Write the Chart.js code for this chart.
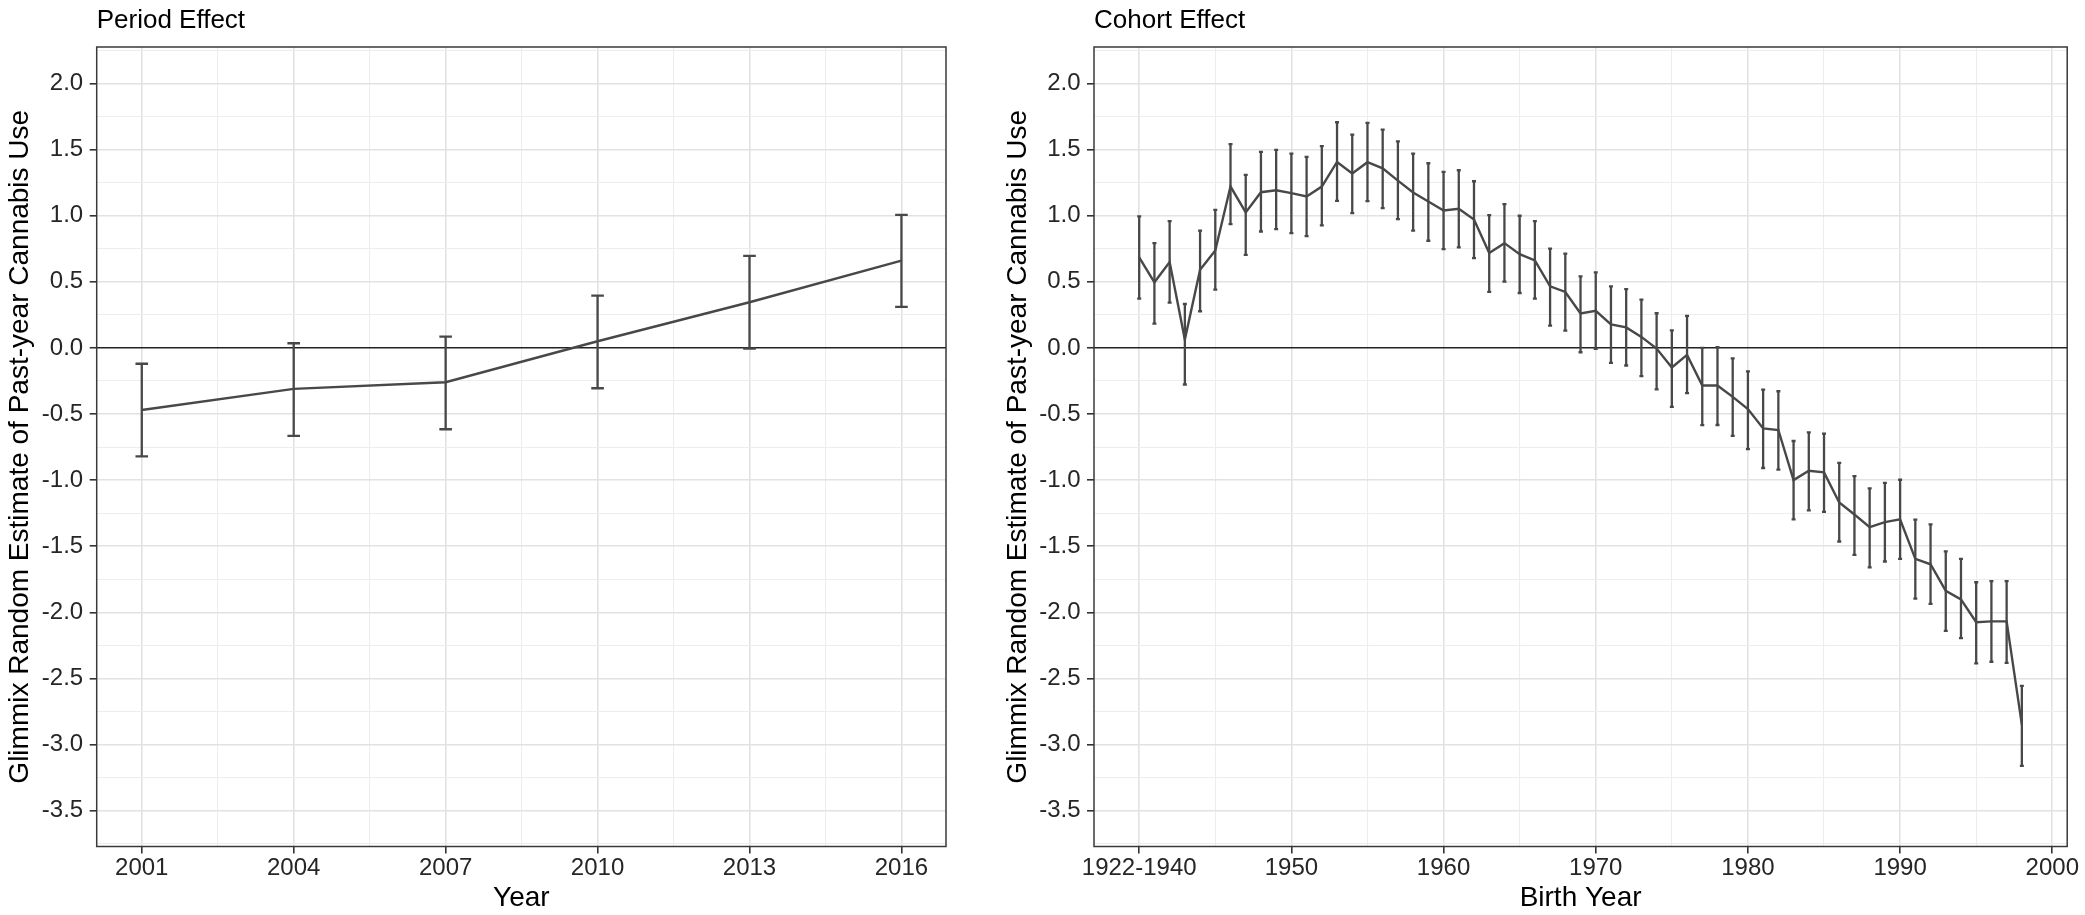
<!DOCTYPE html>
<html>
<head>
<meta charset="utf-8">
<script src="https://cdn.jsdelivr.net/npm/chart.js@4.4.1/dist/chart.umd.min.js"></script>
<style>
  html, body { margin: 0; padding: 0; background: #fff; }
  body { width: 2085px; height: 915px; position: relative; overflow: hidden; }
  canvas { position: absolute; top: 0; }
  #period { left: 0; }
  #cohort { left: 998px; }
</style>
</head>
<body>
<canvas id="period" width="960" height="915"></canvas>
<canvas id="cohort" width="1087" height="915"></canvas>
<script>
const FONT = "'Liberation Sans', Arial, sans-serif";
const INK = '#484848';

// period effect
const periodYears = [2001, 2004, 2007, 2010, 2013, 2016];
const periodEstimate = [-0.47, -0.31, -0.26, 0.05, 0.345, 0.66];
const periodLower = [-0.82, -0.665, -0.615, -0.305, -0.005, 0.31];
const periodUpper = [-0.12, 0.035, 0.085, 0.395, 0.695, 1.005];
const periodTicks = [2001, 2004, 2007, 2010, 2013, 2016];
const periodTickLabels = ['2001', '2004', '2007', '2010', '2013', '2016'];
const periodMinorTicks = [2002.5, 2005.5, 2008.5, 2011.5, 2014.5];

// cohort effect (1940 = 1922-1940 group)
const cohortYears = [1940, 1941, 1942, 1943, 1944, 1945, 1946, 1947, 1948, 1949,
  1950, 1951, 1952, 1953, 1954, 1955, 1956, 1957, 1958, 1959,
  1960, 1961, 1962, 1963, 1964, 1965, 1966, 1967, 1968, 1969,
  1970, 1971, 1972, 1973, 1974, 1975, 1976, 1977, 1978, 1979,
  1980, 1981, 1982, 1983, 1984, 1985, 1986, 1987, 1988, 1989,
  1990, 1991, 1992, 1993, 1994, 1995, 1996, 1997, 1998];
const cohortEstimate = [0.684, 0.496, 0.649, 0.063, 0.591, 0.737, 1.220, 1.024, 1.177, 1.192,
  1.170, 1.145, 1.220, 1.406, 1.318, 1.404, 1.358, 1.265, 1.175, 1.107,
  1.039, 1.052, 0.971, 0.717, 0.792, 0.709, 0.662, 0.465, 0.423, 0.260,
  0.280, 0.178, 0.155, 0.083, -0.005, -0.148, -0.053, -0.284, -0.284, -0.370,
  -0.463, -0.609, -0.621, -1.000, -0.929, -0.941, -1.169, -1.260, -1.355, -1.317,
  -1.296, -1.595, -1.636, -1.837, -1.902, -2.074, -2.068, -2.068, -2.849];
const cohortLower = [0.372, 0.184, 0.342, -0.277, 0.277, 0.440, 0.936, 0.704, 0.880, 0.898,
  0.868, 0.845, 0.926, 1.112, 1.019, 1.109, 1.057, 0.974, 0.886, 0.810,
  0.747, 0.760, 0.679, 0.423, 0.501, 0.415, 0.372, 0.169, 0.131, -0.033,
  -0.008, -0.113, -0.133, -0.214, -0.314, -0.446, -0.342, -0.584, -0.583, -0.666,
  -0.766, -0.908, -0.920, -1.296, -1.228, -1.240, -1.464, -1.565, -1.660, -1.615,
  -1.595, -1.896, -1.935, -2.139, -2.195, -2.385, -2.373, -2.382, -3.160];
const cohortUpper = [0.994, 0.792, 0.958, 0.332, 0.886, 1.044, 1.540, 1.308, 1.482, 1.497,
  1.469, 1.444, 1.525, 1.706, 1.613, 1.701, 1.650, 1.562, 1.469, 1.396,
  1.331, 1.343, 1.260, 1.004, 1.087, 0.999, 0.958, 0.750, 0.712, 0.541,
  0.571, 0.465, 0.445, 0.365, 0.262, 0.133, 0.242, 0.000, 0.005, -0.080,
  -0.177, -0.315, -0.328, -0.704, -0.639, -0.648, -0.870, -0.970, -1.062, -1.021,
  -0.997, -1.299, -1.334, -1.538, -1.595, -1.772, -1.763, -1.763, -2.556];
const cohortTicks = [1940, 1950, 1960, 1970, 1980, 1990, 2000];
const cohortTickLabels = ['1922-1940', '1950', '1960', '1970', '1980', '1990', '2000'];
const cohortMinorTicks = [1945, 1955, 1965, 1975, 1985, 1995];

// shared y axis
const yTicks = [-3.5, -3, -2.5, -2, -1.5, -1, -0.5, 0, 0.5, 1, 1.5, 2];
const yMinorTicks = [-3.75, -3.25, -2.75, -2.25, -1.75, -1.25, -0.75, -0.25, 0.25, 0.75, 1.25, 1.75, 2.25];
const yTitle = 'Glimmix Random Estimate of Past-year Cannabis Use';

function mergeTicks(major, minor) {
  return major.map(v => ({value: v, isMajor: true}))
    .concat(minor.map(v => ({value: v, isMajor: false})))
    .sort((a, b) => a.value - b.value);
}
const isMajor = c => c.tick && c.tick.isMajor;

// error bars + panel border
const errorBars = {
  id: 'errorBars',
  afterDatasetsDraw(chart) {
    const {ctx, scales: {x, y}} = chart;
    const ds = chart.data.datasets[0];
    ctx.save();
    ctx.strokeStyle = INK;
    ctx.lineWidth = 2.3;
    ds.data.forEach((p, i) => {
      const px = x.getPixelForValue(p.x);
      const top = y.getPixelForValue(ds.upper[i]);
      const bot = y.getPixelForValue(ds.lower[i]);
      ctx.beginPath();
      ctx.moveTo(px, top); ctx.lineTo(px, bot);
      ctx.moveTo(px - ds.cap, top); ctx.lineTo(px + ds.cap, top);
      ctx.moveTo(px - ds.cap, bot); ctx.lineTo(px + ds.cap, bot);
      ctx.stroke();
    });
    ctx.restore();
  },
  afterDraw(chart) {
    const {ctx, chartArea: a} = chart;
    ctx.save();
    ctx.strokeStyle = '#3a3a3a';
    ctx.lineWidth = 1.5;
    ctx.strokeRect(a.left, a.top, a.right - a.left, a.bottom - a.top);
    ctx.restore();
  }
};

function panel(id, o) {
  return new Chart(document.getElementById(id), {
    type: 'line',
    data: {
      datasets: [{
        data: o.xs.map((x, i) => ({x: x, y: o.est[i]})),
        lower: o.lower,
        upper: o.upper,
        cap: o.cap,
        borderColor: INK,
        borderWidth: 2.4,
        pointRadius: 0,
        tension: 0,
        fill: false
      }]
    },
    options: {
      responsive: false,
      animation: false,
      events: [],
      layout: { padding: { left: 0, top: 0, bottom: 0, right: o.padRight } },
      plugins: {
        legend: { display: false },
        tooltip: { enabled: false },
        title: {
          display: true, text: o.title, align: 'start', fullSize: false,
          color: '#000', font: { family: FONT, size: 26, weight: 'normal' },
          padding: { top: 5.4, bottom: 10.4 }
        }
      },
      scales: {
        x: {
          type: 'linear', min: o.xMin, max: o.xMax,
          afterBuildTicks: s => { s.ticks = mergeTicks(o.xMajor, o.xMinor); },
          afterFit: s => { s.height = 68.5; s.paddingLeft = 0; s.paddingRight = 0; },
          ticks: {
            autoSkip: false, maxRotation: 0, padding: 0, color: '#262626',
            font: { family: FONT, size: 24 },
            callback: v => { const i = o.xMajor.indexOf(v); return i < 0 ? '' : o.xLabels[i]; }
          },
          grid: {
            color: c => isMajor(c) ? '#e2e2e2' : '#ededed',
            lineWidth: c => isMajor(c) ? 1.6 : 1.1,
            tickLength: 7,
            tickColor: c => isMajor(c) ? '#333' : 'rgba(0,0,0,0)',
            tickWidth: 1.6
          },
          border: { display: false },
          title: {
            display: true, text: o.xTitle, color: '#000',
            font: { family: FONT, size: 28 }, padding: { top: 0, bottom: 0 }
          }
        },
        y: {
          type: 'linear', min: -3.77, max: 2.275,
          afterBuildTicks: s => { s.ticks = mergeTicks(yTicks, yMinorTicks); },
          afterFit: s => { s.width = o.yWidth; s.paddingTop = 0; s.paddingBottom = 0; },
          ticks: {
            autoSkip: false, padding: 6.5, color: '#262626',
            font: { family: FONT, size: 24 },
            callback: v => yTicks.includes(v) ? v.toFixed(1) : ''
          },
          grid: {
            color: c => c.tick && c.tick.value === 0 ? '#222' : (isMajor(c) ? '#e2e2e2' : '#ededed'),
            lineWidth: c => c.tick && c.tick.value === 0 ? 1.5 : (isMajor(c) ? 1.6 : 1.1),
            tickLength: 7,
            tickColor: c => isMajor(c) ? '#333' : 'rgba(0,0,0,0)',
            tickWidth: 1.6
          },
          border: { display: false },
          title: {
            display: true, text: yTitle, color: '#000',
            font: { family: FONT, size: 28 }, padding: { top: 3.5, bottom: 0 }
          }
        }
      }
    },
    plugins: [errorBars]
  });
}

panel('period', {
  title: 'Period Effect', xTitle: 'Year',
  xs: periodYears, est: periodEstimate, lower: periodLower, upper: periodUpper,
  xMin: 2000.11, xMax: 2016.88,
  xMajor: periodTicks, xLabels: periodTickLabels, xMinor: periodMinorTicks,
  yWidth: 96.7, padRight: 14, cap: 6.3
});

panel('cohort', {
  title: 'Cohort Effect', xTitle: 'Birth Year',
  xs: cohortYears, est: cohortEstimate, lower: cohortLower, upper: cohortUpper,
  xMin: 1937.03, xMax: 2000.98,
  xMajor: cohortTicks, xLabels: cohortTickLabels, xMinor: cohortMinorTicks,
  yWidth: 96, padRight: 17.8, cap: 2
});
</script>
</body>
</html>
